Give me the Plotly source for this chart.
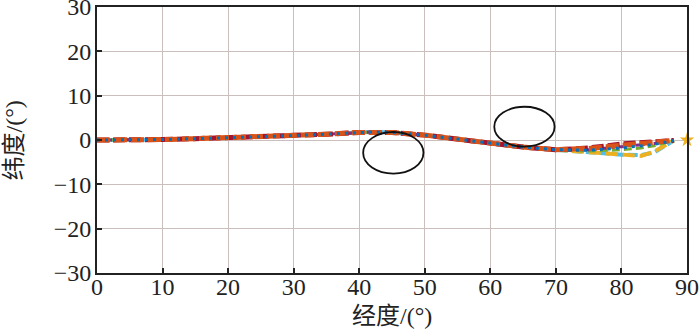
import plotly.graph_objects as go

# longitude samples (deg)
lon = [0, 5, 10, 15, 20, 25, 30, 35, 40, 42, 45, 50, 55, 60, 65, 70, 75, 80, 83, 85, 88]

# latitude of each trajectory (deg)
base = [0, 0, 0.1, 0.3, 0.5, 0.7, 1.0, 1.3, 1.7, 1.8, 1.7, 1.1, 0.2, -0.7, -1.6, -2.2]
lat_lightblue = base + [-2.8, -3.3, -3.4, -2.8, -0.1]
lat_yellow    = base + [-2.7, -3.4, -3.6, -2.6, -0.1]
lat_green     = base + [-2.5, -2.2, -1.8, -1.3, -0.1]
lat_purple    = base + [-2.2, -1.5, -1.1, -0.8, -0.1]
lat_darkred   = base + [-1.8, -0.9, -0.6, -0.4, -0.1]
lat_orange    = base + [-1.9, -1.2, -0.8, -0.6, -0.1]
lat_blue      = base + [-2.3, -1.8, -1.3, -1.0, -0.1]

target_lon = [90]
target_lat = [0]

# annotation ellipses: centre lon, centre lat, radius lon, radius lat
ellipse_cx = [45.2, 65.2]
ellipse_cy = [-2.9, 3.0]
ellipse_rx = [4.6, 4.6]
ellipse_ry = [4.7, 4.5]

x_ticks = [0, 10, 20, 30, 40, 50, 60, 70, 80, 90]
y_ticks = [-30, -20, -10, 0, 10, 20, 30]

x_title = "经度/(°)"
y_title = "纬度/(°)"

series = [
    (lat_lightblue, "#4DBEEE", 4, "10px,4px"),
    (lat_yellow, "#EDB120", 4, "12px,5px"),
    (lat_green, "#77AC30", 3, "8px,4px"),
    (lat_purple, "#7E2F8E", 3, "9px,3px,3px,3px"),
    (lat_darkred, "#A2142F", 5, "12px,4px"),
    (lat_orange, "#D95319", 5, "13px,4px"),
    (lat_blue, "#0072BD", 3, "3px,5px"),
]

fig = go.Figure()
for ys, col, w, dash in series:
    fig.add_trace(go.Scatter(x=lon, y=ys, mode="lines",
                             line=dict(color=col, width=w, dash=dash),
                             showlegend=False))

fig.add_trace(go.Scatter(x=target_lon, y=target_lat, mode="markers",
                         marker=dict(symbol="star", size=11, color="#EDB120"),
                         cliponaxis=False, showlegend=False))

for cx, cy, rx, ry in zip(ellipse_cx, ellipse_cy, ellipse_rx, ellipse_ry):
    fig.add_shape(type="circle", xref="x", yref="y",
                  x0=cx - rx, x1=cx + rx, y0=cy - ry, y1=cy + ry,
                  line=dict(color="#111111", width=1.8))

font_family = "Liberation Serif, Noto Sans CJK SC, serif"
axis_common = dict(
    showgrid=True, gridcolor="#cbbfbd", gridwidth=1,
    showline=True, linecolor="#222222", linewidth=1.8, mirror=True,
    ticks="inside", ticklen=5, tickwidth=1.5, tickcolor="#222222",
    zeroline=False, automargin=False, ticklabeloverflow="allow",
    tickfont=dict(family=font_family, size=24, color="#222222"),
)

fig.update_layout(
    width=700, height=329,
    margin=dict(l=97, r=13, t=7, b=56),
    plot_bgcolor="white", paper_bgcolor="white",
    xaxis=dict(range=[0, 90], tickvals=x_ticks, ticklabelstandoff=-9, **axis_common),
    yaxis=dict(range=[-30, 30], tickvals=y_ticks, ticklabelstandoff=-1, **axis_common),
)

fig.add_annotation(text=x_title, xref="paper", yref="paper", x=0.5, y=-0.161,
                   xanchor="center", yanchor="middle", showarrow=False,
                   font=dict(family=font_family, size=24, color="#222222"))
fig.add_annotation(text=y_title, xref="paper", yref="paper", x=-0.140, y=0.5,
                   xanchor="center", yanchor="middle", showarrow=False, textangle=-90,
                   font=dict(family=font_family, size=24, color="#222222"))

fig.write_html("out.html", config={"displayModeBar": False},
               post_script="document.body.style.margin='0';document.body.style.overflow='hidden';")
